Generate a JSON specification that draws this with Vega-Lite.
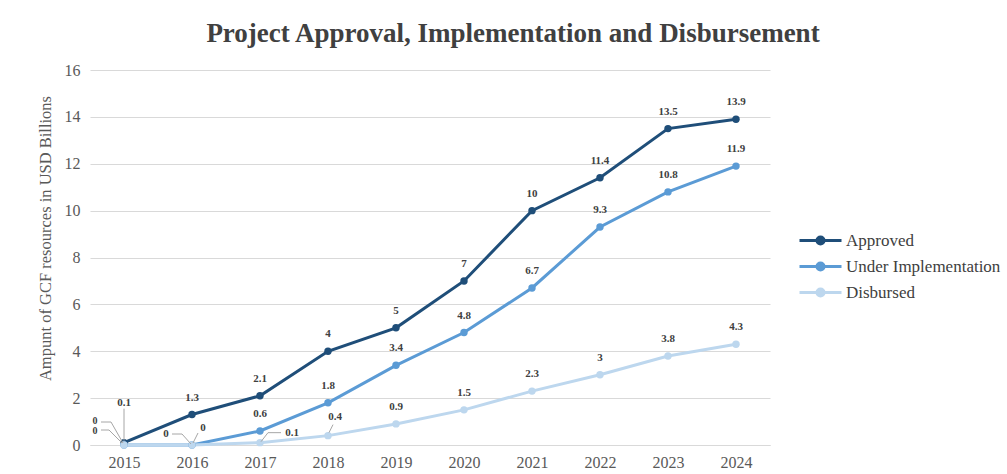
{
  "$schema": "https://vega.github.io/schema/vega-lite/v6.json",
  "autosize": "none",
  "width": 680,
  "height": 375,
  "padding": {"left": 90, "top": 70, "right": 237, "bottom": 29},
  "background": "white",
  "title": {
    "text": "Project Approval, Implementation and Disbursement",
    "font": "Liberation Serif",
    "fontSize": 27,
    "fontWeight": "bold",
    "color": "#404040",
    "anchor": "middle",
    "dx": 83,
    "offset": 14
  },
  "data": {
    "values": [
      {"year": "2015", "series": "Approved", "value": 0.1},
      {"year": "2016", "series": "Approved", "value": 1.3},
      {"year": "2017", "series": "Approved", "value": 2.1},
      {"year": "2018", "series": "Approved", "value": 4},
      {"year": "2019", "series": "Approved", "value": 5},
      {"year": "2020", "series": "Approved", "value": 7},
      {"year": "2021", "series": "Approved", "value": 10},
      {"year": "2022", "series": "Approved", "value": 11.4},
      {"year": "2023", "series": "Approved", "value": 13.5},
      {"year": "2024", "series": "Approved", "value": 13.9},
      {"year": "2015", "series": "Under Implementation", "value": 0},
      {"year": "2016", "series": "Under Implementation", "value": 0},
      {"year": "2017", "series": "Under Implementation", "value": 0.6},
      {"year": "2018", "series": "Under Implementation", "value": 1.8},
      {"year": "2019", "series": "Under Implementation", "value": 3.4},
      {"year": "2020", "series": "Under Implementation", "value": 4.8},
      {"year": "2021", "series": "Under Implementation", "value": 6.7},
      {"year": "2022", "series": "Under Implementation", "value": 9.3},
      {"year": "2023", "series": "Under Implementation", "value": 10.8},
      {"year": "2024", "series": "Under Implementation", "value": 11.9},
      {"year": "2015", "series": "Disbursed", "value": 0},
      {"year": "2016", "series": "Disbursed", "value": 0},
      {"year": "2017", "series": "Disbursed", "value": 0.1},
      {"year": "2018", "series": "Disbursed", "value": 0.4},
      {"year": "2019", "series": "Disbursed", "value": 0.9},
      {"year": "2020", "series": "Disbursed", "value": 1.5},
      {"year": "2021", "series": "Disbursed", "value": 2.3},
      {"year": "2022", "series": "Disbursed", "value": 3},
      {"year": "2023", "series": "Disbursed", "value": 3.8},
      {"year": "2024", "series": "Disbursed", "value": 4.3}
    ]
  },
  "encoding": {
    "x": {
      "field": "year", "type": "ordinal",
      "scale": {"type": "point", "padding": 0.5},
      "axis": {
        "title": null, "labelAngle": 0, "ticks": false, "grid": false,
        "domainColor": "#d9d9d9", "labelPadding": 9,
        "labelFont": "Liberation Serif", "labelFontSize": 16, "labelColor": "#595959"
      }
    },
    "y": {
      "field": "value", "type": "quantitative",
      "scale": {"domain": [0, 16], "nice": false},
      "axis": {
        "values": [0, 2, 4, 6, 8, 10, 12, 14, 16],
        "title": "Ampunt of GCF  resources in USD Billions",
        "titleFont": "Liberation Serif", "titleFontSize": 16.5, "titleFontWeight": "normal",
        "titleColor": "#595959", "titleX": -45, "titleY": 168, "titleAngle": -90,
        "titleAlign": "center", "titleBaseline": "middle",
        "domain": false, "ticks": false, "labelPadding": 10,
        "labelFont": "Liberation Serif", "labelFontSize": 16, "labelColor": "#595959",
        "gridColor": "#d9d9d9", "gridWidth": 1
      }
    },
    "color": {
      "field": "series", "type": "nominal",
      "scale": {
        "domain": ["Approved", "Under Implementation", "Disbursed"],
        "range": ["#1f4e79", "#5b9bd5", "#bdd7ee"]
      },
      "legend": {
        "title": null,
        "orient": "none", "legendX": 708, "legendY": 159,
        "symbolType": "M-1,0L3.2,0M1.45,0A0.35,0.35,0,1,1,0.75,0A0.35,0.35,0,1,1,1.45,0Z",
        "symbolSize": 400, "symbolStrokeWidth": 3,
        "labelFont": "Liberation Serif", "labelFontSize": 17, "labelColor": "#404040",
        "labelOffset": 25, "rowPadding": 4,
        "encode": {
          "symbols": {
            "update": {
              "fill": {"scale": "color", "field": "value"},
              "stroke": {"scale": "color", "field": "value"},
              "strokeWidth": {"value": 3},
              "opacity": {"value": 1}
            }
          }
        }
      }
    }
  },
  "layer": [
    {"mark": {"type": "line", "strokeWidth": 3}},
    {"mark": {"type": "point", "filled": true, "size": 55, "opacity": 1}},
    {
      "transform": [{"filter": "datum.year=='2015' && datum.series=='Approved'"}],
      "mark": {"type": "rule", "strokeWidth": 1, "yOffset": -2, "y2Offset": -34},
      "encoding": {"x2": {"field": "year"}, "y2": {"field": "value"}, "color": {"value": "#a6a6a6"}}
    },
    {
      "transform": [{"filter": "datum.year=='2015' && datum.series=='Under Implementation'"}],
      "mark": {"type": "rule", "strokeWidth": 1, "xOffset": -23, "x2Offset": -13, "yOffset": -23, "y2Offset": -23},
      "encoding": {"x2": {"field": "year"}, "y2": {"field": "value"}, "color": {"value": "#a6a6a6"}}
    },
    {
      "transform": [{"filter": "datum.year=='2015' && datum.series=='Under Implementation'"}],
      "mark": {"type": "rule", "strokeWidth": 1, "xOffset": -13, "x2Offset": -1, "yOffset": -23, "y2Offset": -2},
      "encoding": {"x2": {"field": "year"}, "y2": {"field": "value"}, "color": {"value": "#a6a6a6"}}
    },
    {
      "transform": [{"filter": "datum.year=='2015' && datum.series=='Disbursed'"}],
      "mark": {"type": "rule", "strokeWidth": 1, "xOffset": -23, "x2Offset": -15, "yOffset": -15, "y2Offset": -15},
      "encoding": {"x2": {"field": "year"}, "y2": {"field": "value"}, "color": {"value": "#a6a6a6"}}
    },
    {
      "transform": [{"filter": "datum.year=='2015' && datum.series=='Disbursed'"}],
      "mark": {"type": "rule", "strokeWidth": 1, "xOffset": -15, "x2Offset": -2, "yOffset": -15, "y2Offset": -2},
      "encoding": {"x2": {"field": "year"}, "y2": {"field": "value"}, "color": {"value": "#a6a6a6"}}
    },
    {
      "transform": [{"filter": "datum.year=='2016' && datum.series=='Disbursed'"}],
      "mark": {"type": "rule", "strokeWidth": 1, "xOffset": -20, "x2Offset": -10, "yOffset": -11, "y2Offset": -11},
      "encoding": {"x2": {"field": "year"}, "y2": {"field": "value"}, "color": {"value": "#a6a6a6"}}
    },
    {
      "transform": [{"filter": "datum.year=='2016' && datum.series=='Disbursed'"}],
      "mark": {"type": "rule", "strokeWidth": 1, "xOffset": -10, "x2Offset": -1, "yOffset": -11, "y2Offset": -1},
      "encoding": {"x2": {"field": "year"}, "y2": {"field": "value"}, "color": {"value": "#a6a6a6"}}
    },
    {
      "transform": [{"filter": "datum.year=='2016' && datum.series=='Under Implementation'"}],
      "mark": {"type": "rule", "strokeWidth": 1, "xOffset": 6, "x2Offset": 1, "yOffset": -12, "y2Offset": -2},
      "encoding": {"x2": {"field": "year"}, "y2": {"field": "value"}, "color": {"value": "#a6a6a6"}}
    },
    {
      "transform": [{"filter": "datum.year=='2017' && datum.series=='Disbursed'"}],
      "mark": {"type": "rule", "strokeWidth": 1, "xOffset": 1, "x2Offset": 8, "yOffset": -1, "y2Offset": -10},
      "encoding": {"x2": {"field": "year"}, "y2": {"field": "value"}, "color": {"value": "#a6a6a6"}}
    },
    {
      "transform": [{"filter": "datum.year=='2017' && datum.series=='Disbursed'"}],
      "mark": {"type": "rule", "strokeWidth": 1, "xOffset": 8, "x2Offset": 21, "yOffset": -10, "y2Offset": -10},
      "encoding": {"x2": {"field": "year"}, "y2": {"field": "value"}, "color": {"value": "#a6a6a6"}}
    },
    {
      "transform": [{"filter": "datum.year=='2018' && datum.series=='Disbursed'"}],
      "mark": {"type": "rule", "strokeWidth": 1, "xOffset": 1, "x2Offset": 5, "yOffset": -3, "y2Offset": -11},
      "encoding": {"x2": {"field": "year"}, "y2": {"field": "value"}, "color": {"value": "#a6a6a6"}}
    },
    {
      "transform": [{"filter": "!((datum.year=='2015') || (datum.year=='2016' && datum.series!='Approved') || ((datum.year=='2017' || datum.year=='2018') && datum.series=='Disbursed'))"}],
      "mark": {"type": "text", "dy": -17, "font": "Liberation Serif", "fontSize": 11, "fontWeight": "bold"},
      "encoding": {"text": {"field": "value", "type": "quantitative"}, "color": {"value": "#404040"}}
    },
    {
      "transform": [{"filter": "datum.year=='2015' && datum.series=='Approved'"}],
      "mark": {"type": "text", "dy": -40, "font": "Liberation Serif", "fontSize": 11, "fontWeight": "bold"},
      "encoding": {"text": {"field": "value", "type": "quantitative"}, "color": {"value": "#404040"}}
    },
    {
      "transform": [{"filter": "datum.year=='2015' && datum.series=='Under Implementation'"}],
      "mark": {"type": "text", "dx": -29, "dy": -24, "font": "Liberation Serif", "fontSize": 10, "fontWeight": "bold"},
      "encoding": {"text": {"field": "value", "type": "quantitative"}, "color": {"value": "#404040"}}
    },
    {
      "transform": [{"filter": "datum.year=='2015' && datum.series=='Disbursed'"}],
      "mark": {"type": "text", "dx": -29, "dy": -14, "font": "Liberation Serif", "fontSize": 10, "fontWeight": "bold"},
      "encoding": {"text": {"field": "value", "type": "quantitative"}, "color": {"value": "#404040"}}
    },
    {
      "transform": [{"filter": "datum.year=='2016' && datum.series=='Under Implementation'"}],
      "mark": {"type": "text", "dx": 11, "dy": -17, "font": "Liberation Serif", "fontSize": 11, "fontWeight": "bold"},
      "encoding": {"text": {"field": "value", "type": "quantitative"}, "color": {"value": "#404040"}}
    },
    {
      "transform": [{"filter": "datum.year=='2016' && datum.series=='Disbursed'"}],
      "mark": {"type": "text", "dx": -26, "dy": -11, "font": "Liberation Serif", "fontSize": 11, "fontWeight": "bold"},
      "encoding": {"text": {"field": "value", "type": "quantitative"}, "color": {"value": "#404040"}}
    },
    {
      "transform": [{"filter": "datum.year=='2017' && datum.series=='Disbursed'"}],
      "mark": {"type": "text", "dx": 32, "dy": -10, "font": "Liberation Serif", "fontSize": 11, "fontWeight": "bold"},
      "encoding": {"text": {"field": "value", "type": "quantitative"}, "color": {"value": "#404040"}}
    },
    {
      "transform": [{"filter": "datum.year=='2018' && datum.series=='Disbursed'"}],
      "mark": {"type": "text", "dx": 7, "dy": -19, "font": "Liberation Serif", "fontSize": 11, "fontWeight": "bold"},
      "encoding": {"text": {"field": "value", "type": "quantitative"}, "color": {"value": "#404040"}}
    }
  ],
  "config": {"view": {"stroke": null}}
}
